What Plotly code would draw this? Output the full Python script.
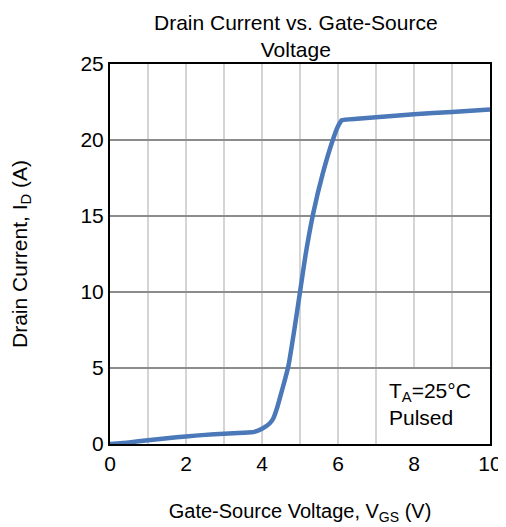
import plotly.graph_objects as go

vgs = [0, 0.5, 1.0, 1.5, 2.0, 2.5, 3.0, 3.5, 3.8, 4.0, 4.2, 4.3, 4.4, 4.5, 4.6, 4.7, 4.85, 5.0, 5.15, 5.35, 5.6, 5.85, 6.0, 6.1, 6.5, 7.0, 8.0, 9.0, 10.0]
i_d = [0, 0.1, 0.25, 0.38, 0.5, 0.6, 0.68, 0.74, 0.8, 1.0, 1.35, 1.7, 2.4, 3.3, 4.2, 5.2, 7.5, 10.0, 12.5, 15.2, 17.8, 19.9, 20.9, 21.3, 21.4, 21.5, 21.7, 21.85, 22.0]

x_ticks = [0, 2, 4, 6, 8, 10]
y_ticks = [0, 5, 10, 15, 20, 25]

FONT = "Liberation Sans, Arial, sans-serif"

fig = go.Figure()
fig.add_trace(go.Scatter(x=vgs, y=i_d, mode="lines",
                         line=dict(color="#4a78b8", width=4.5, shape="spline", smoothing=0.4),
                         showlegend=False, hoverinfo="skip"))

fig.add_shape(type="rect", xref="x", yref="y", x0=7.05, x1=10, y0=0, y1=4.93,
              fillcolor="white", line=dict(width=0), layer="between")

fig.add_annotation(x=7.3, y=2.6, xref="x", yref="y", xanchor="left", yanchor="middle",
                   text="T<sub>A</sub>=25°C<br>Pulsed", showarrow=False, align="left",
                   font=dict(family=FONT, size=21, color="black"))

# chart title as a paper annotation so both lines sit above the plot area
fig.add_annotation(x=0.49, y=1, xref="paper", yref="paper", xanchor="center", yanchor="bottom",
                   yshift=1, text="Drain Current vs. Gate-Source<br>Voltage", showarrow=False,
                   align="center", font=dict(family=FONT, size=21, color="black"))

# page body has an 8px margin; figure is sized so the plot area lands where the reference's does
fig.update_layout(
    width=498, height=519,
    margin=dict(l=102, r=16, t=56, b=83),
    paper_bgcolor="white", plot_bgcolor="white",
    font=dict(family=FONT, size=20, color="black"),
    xaxis=dict(range=[0, 10], tickvals=x_ticks, showgrid=True, gridcolor="#d4d4d4", gridwidth=1.5,
               minor=dict(dtick=1, showgrid=True, gridcolor="#d4d4d4", gridwidth=1.5),
               showline=True, linecolor="black", linewidth=2, mirror=True, zeroline=False,
               ticks="", tickfont=dict(size=21), automargin=False,
               title=dict(text="Gate-Source Voltage, V<sub>GS</sub> (V)", standoff=30, font=dict(size=20))),
    yaxis=dict(range=[0, 25], tickvals=y_ticks, showgrid=True, gridcolor="#8c8c8c", gridwidth=2,
               showline=True, linecolor="black", linewidth=2, mirror=True, zeroline=False,
               ticks="", tickfont=dict(size=21), automargin=False,
               title=dict(text="Drain Current, I<sub>D</sub> (A)", standoff=62, font=dict(size=21))),
)

fig.write_html("out.html")
